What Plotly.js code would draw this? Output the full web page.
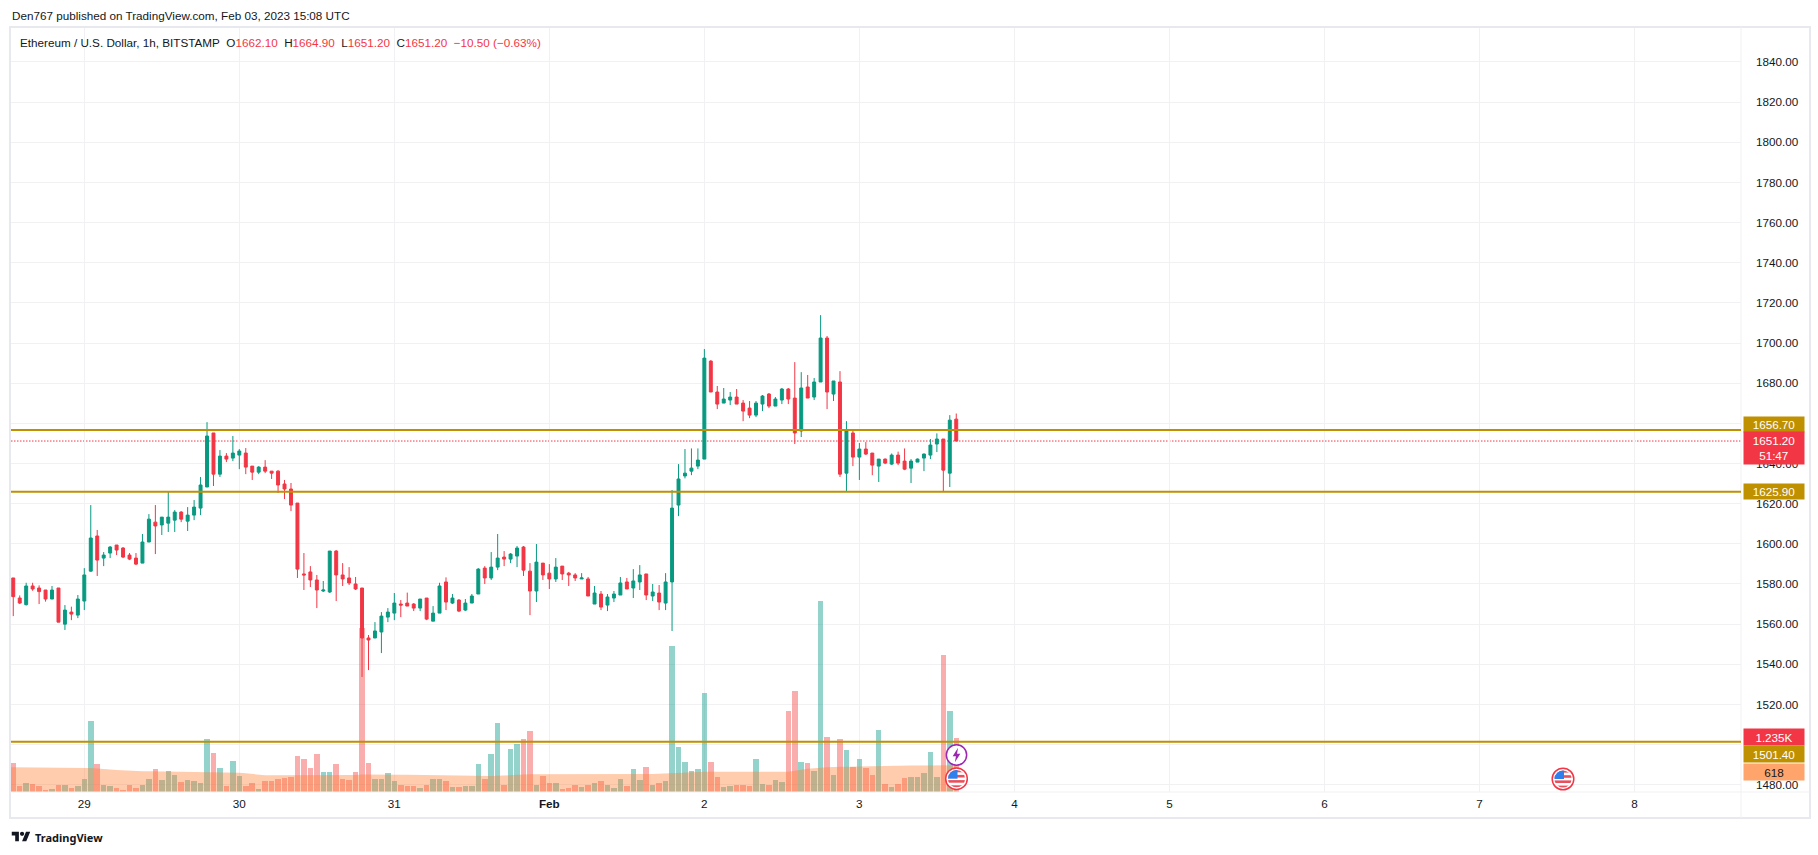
<!DOCTYPE html>
<html>
<head>
<meta charset="utf-8">
<script src="https://cdn.plot.ly/plotly-3.0.1.min.js"></script>
<style>html,body{margin:0;padding:0;background:#fff}#chart{width:1818px;height:855px}</style>
</head>
<body>
<div id="chart"></div>
<script>
// Hourly candles, first bar: 2023-01-28 13:00
const firstBarUTC = Date.UTC(2023, 0, 28, 13);
const open = [1583.0,1573.0,1569.7,1579.0,1578.0,1577.0,1572.5,1578.0,1560.0,1566.0,1564.5,
1571.5,1586.4,1603.9,1592.9,1595.4,1599.4,1597.9,1594.4,1592.9,1590.4,1600.9,1610.8,1609.4,1610.3,1611.8,1615.8,1611.3,1614.3,1617.8,1628.3,1655.2,1634.7,1643.7,1642.7,
1644.2,1645.2,1638.7,1635.7,1638.2,1636.2,1636.2,1629.8,1627.3,1620.3,1585.0,1586.0,1582.0,1576.5,1576.0,1596.4,1584.5,1583.0,1580.0,1578.0,1553.1,1553.1,1556.1,1563.5,1565.5,
1570.0,1570.5,1570.0,1568.0,1573.0,1561.5,1565.5,1581.0,1570.5,1572.0,1567.0,1570.5,1575.0,1587.9,1583.0,1588.4,1593.4,1592.4,1593.9,1598.4,1586.4,1576.5,1590.4,1585.4,
1582.5,1588.9,1585.4,1584.5,1582.5,1582.5,1570.0,1575.0,1569.5,1573.0,1574.5,1581.0,1578.0,1581.0,1585.0,1574.0,1575.5,1570.5,1581.0,1619.3,1633.8,1636.2,1638.7,1642.2,
1691.0,1675.6,1670.1,1671.6,1673.1,1670.1,1667.6,1664.1,1669.6,1674.6,1668.6,1671.6,1677.1,1672.6,1656.2,1678.1,1673.1,1680.6,1702.5,1674.6,1680.6,1635.2,1655.2,1643.2,
1647.2,1645.2,1638.7,1642.2,1639.7,1644.2,1641.2,1637.7,1640.7,1642.7,1644.2,1649.7,1652.2,1635.2,1662.1];
const high = [1583.0,1574.3,1580.6,1580.6,1579.3,1577.0,1579.0,1578.0,1569.5,1568.7,1574.5,
1587.9,1619.3,1606.9,1595.9,1598.9,1599.4,1598.4,1595.4,1595.4,1604.9,1614.8,1619.3,1613.3,1626.3,1616.8,1616.3,1618.3,1621.8,1633.3,1660.6,1655.2,1646.7,1645.2,1653.7,
1647.2,1647.7,1638.7,1638.7,1641.7,1636.2,1636.7,1631.8,1630.3,1620.3,1595.4,1588.9,1584.5,1581.5,1596.4,1596.9,1590.4,1588.4,1583.5,1578.0,1554.6,1561.0,1566.0,1568.0,1575.5,
1572.0,1575.7,1570.5,1572.5,1573.0,1569.0,1580.6,1583.3,1575.0,1572.5,1572.5,1575.0,1587.9,1588.9,1595.9,1604.9,1596.4,1595.4,1598.9,1598.9,1590.4,1599.9,1590.4,1589.9,
1592.9,1588.9,1586.0,1585.4,1585.4,1583.5,1579.0,1576.5,1575.0,1576.5,1583.5,1583.0,1587.4,1589.4,1585.0,1580.0,1579.5,1585.4,1626.8,1639.7,1647.2,1647.5,1647.5,1697.0,
1691.5,1678.6,1677.6,1675.6,1677.1,1671.6,1671.1,1671.1,1674.1,1675.1,1673.1,1677.6,1677.6,1690.5,1685.5,1684.1,1682.6,1713.9,1703.5,1681.1,1686.0,1661.1,1656.7,1650.2,
1650.7,1645.2,1642.2,1642.5,1645.0,1645.9,1647.5,1642.2,1642.5,1645.0,1652.2,1655.0,1652.2,1664.1,1664.9];
const low = [1564.0,1570.0,1569.3,1576.6,1570.0,1571.2,1572.5,1561.0,1557.1,1562.0,1563.0,
1567.0,1586.1,1584.0,1588.9,1592.9,1594.4,1592.9,1591.9,1589.4,1590.4,1600.9,1594.9,1604.4,1605.9,1605.9,1610.8,1606.4,1611.8,1614.3,1628.3,1628.8,1633.3,1640.7,1641.2,
1637.2,1634.7,1631.8,1634.7,1635.2,1632.3,1625.3,1622.3,1616.3,1583.0,1577.0,1578.5,1568.0,1576.0,1575.5,1571.5,1579.0,1579.5,1577.0,1533.7,1537.1,1553.1,1545.6,1561.0,1562.0,
1563.5,1569.0,1566.5,1566.5,1562.0,1561.5,1565.5,1567.0,1570.0,1566.0,1566.5,1570.5,1575.0,1580.0,1582.0,1586.9,1588.9,1590.4,1588.4,1584.0,1564.5,1571.0,1582.0,1577.5,
1581.0,1582.0,1579.0,1581.5,1582.5,1574.0,1570.0,1567.0,1566.5,1571.0,1574.5,1577.5,1573.0,1577.0,1572.0,1571.5,1567.0,1567.0,1556.6,1613.8,1632.6,1634.2,1637.2,1642.2,
1675.6,1667.1,1670.1,1669.1,1669.6,1661.1,1662.6,1663.1,1666.1,1667.6,1668.6,1669.6,1669.6,1649.7,1653.2,1672.6,1671.6,1680.6,1667.1,1671.1,1633.3,1625.9,1638.7,1631.8,
1644.2,1634.2,1630.8,1639.7,1639.2,1639.2,1636.7,1630.3,1640.7,1636.2,1642.2,1645.7,1626.3,1628.3,1651.2];
const close = [1573.7,1570.5,1579.0,1577.5,1576.2,1572.5,1577.0,1561.0,1567.0,1565.0,1572.5,
1584.5,1602.9,1591.9,1594.4,1598.4,1596.9,1593.4,1592.4,1589.9,1600.9,1612.3,1608.9,1613.3,1613.3,1615.8,1612.3,1614.3,1618.3,1629.3,1653.7,1634.7,1643.7,1642.2,1645.2,
1646.2,1638.2,1635.7,1638.2,1636.2,1635.2,1629.3,1627.3,1619.3,1587.4,1584.5,1582.0,1577.0,1577.0,1596.4,1584.5,1582.5,1580.5,1577.5,1553.1,1552.1,1556.6,1564.0,1566.0,1570.5,
1569.5,1569.0,1568.0,1572.5,1562.5,1565.5,1579.0,1571.0,1573.0,1566.5,1570.5,1574.0,1587.4,1583.0,1588.4,1592.9,1592.4,1594.9,1597.9,1586.9,1576.5,1590.9,1584.5,1582.5,
1588.4,1585.0,1584.5,1583.0,1583.0,1574.0,1575.5,1568.5,1573.5,1575.0,1580.5,1577.5,1581.5,1584.5,1574.5,1576.0,1571.0,1581.0,1617.8,1632.3,1635.2,1637.7,1641.7,1692.5,
1675.6,1669.6,1672.1,1673.1,1669.6,1666.1,1664.1,1670.1,1673.6,1668.6,1672.1,1677.1,1672.1,1655.2,1677.6,1672.6,1680.6,1702.5,1675.6,1681.1,1634.7,1656.2,1643.2,1647.2,
1644.7,1639.2,1642.2,1640.2,1644.2,1640.2,1637.2,1641.2,1642.2,1644.7,1649.2,1652.2,1636.7,1661.6,1651.2];
const volume = [660,138,199,176,138,54,69,153,153,92,130,
291,1626,637,153,130,84,54,153,84,153,291,522,268,476,384,222,268,245,199,1212,890,545,130,706,
360,130,199,69,245,245,291,314,337,821,752,545,867,453,453,637,291,268,453,3766,660,291,291,430,245,
153,130,130,84,153,291,291,245,107,107,130,130,637,291,867,1580,153,982,1097,1212,1396,153,360,199,
199,69,92,153,107,153,199,245,153,84,291,130,522,268,568,153,199,245,3352,1028,683,476,522,2270,
683,337,107,130,153,153,130,752,176,153,268,222,1856,2316,683,660,476,4387,1258,384,1212,959,568,752,
545,384,1419,176,107,176,314,337,337,430,913,337,3145,1856,1235];
// Volume moving average, one value per hour, starts one hour before the first visible bar
const volumeMA = [568,568,568,565,565,565,562,560,560,558,556,556,
553,550,545,535,520,505,495,488,482,480,
478,476,476,476,476,474,472,470,466,453,
453,453,453,450,445,430,410,395,385,384,
384,382,380,380,384,384,386,390,392,392,
392,392,392,404,406,406,404,402,400,398,
396,394,392,390,388,384,380,375,368,362,
360,360,362,368,375,385,392,398,402,406,
406,404,402,400,398,398,398,400,402,402,
404,406,406,408,408,410,412,414,416,420,
435,445,448,452,456,460,468,468,468,466,
464,462,460,460,462,462,462,462,462,468,
490,520,535,545,565,572,578,582,585,590,
592,594,596,598,600,602,604,606,608,610,
612,614,615,616,617,618];
const levels = [1656.7, 1625.9, 1501.4];
const lastPrice = 1651.2;
const priceTicks = [1480,1500,1520,1540,1560,1580,1600,1620,1640,1660,1680,1700,1720,1740,1760,1780,1800,1820,1840];
const hiddenPriceLabels = [1500, 1660]; // fully covered by the level badges in the picture
const dayDates = ['2023-01-29','2023-01-30','2023-01-31','2023-02-01','2023-02-02','2023-02-03','2023-02-04','2023-02-05','2023-02-06','2023-02-07','2023-02-08'];
const dayLabels = ['29','30','31','<b>Feb</b>','2','3','4','5','6','7','8'];

const HOUR = 3600e3;
const times = open.map((_, i) => firstBarUTC + i * HOUR);
const maTimes = volumeMA.map((_, i) => firstBarUTC + (i - 1) * HOUR);
const GREEN = '#089981', RED = '#F23645', GOLD = '#BF9000', TEXT = '#131722', GRID = '#f1f1f4', FRAME = '#e8e9ef';
const FONT = '"Liberation Sans", sans-serif';
const FS = 11.7;

// page-pixel helpers for chart furniture (frame, badges, icons)
const L = 11, R = 1741, T = 28, B = 792;
const PX = p => (p - L) / (R - L), PY = p => (B - p) / (B - T);
const svg = s => 'data:image/svg+xml;charset=utf-8,' + encodeURIComponent(s);

const boltIcon = svg('<svg xmlns="http://www.w3.org/2000/svg" viewBox="0 0 24 24"><circle cx="12" cy="12" r="10.6" fill="#fff" stroke="#9C27B0" stroke-width="1.6"/><path d="M13.6 4.5 8 13.2h3.4L10.3 19.5 16 10.6h-3.4z" fill="#9C27B0"/></svg>');
const flagIcon = svg('<svg xmlns="http://www.w3.org/2000/svg" viewBox="0 0 24 24"><defs><clipPath id="c"><circle cx="12" cy="12" r="8.6"/></clipPath></defs><circle cx="12" cy="12" r="10.8" fill="#fff" stroke="#F23645" stroke-width="1.5"/><g clip-path="url(#c)"><rect width="24" height="24" fill="#fff"/><rect y="3" width="24" height="2.6" fill="#E8505B"/><rect y="8.2" width="24" height="2.6" fill="#E8505B"/><rect y="13.4" width="24" height="2.6" fill="#E8505B"/><rect y="18.6" width="24" height="2.6" fill="#E8505B"/><rect x="3" y="3" width="10" height="9" fill="#2F80ED"/></g></svg>');
const logoIcon = svg('<svg xmlns="http://www.w3.org/2000/svg" viewBox="0 0 36 28"><path fill="#131722" d="M14 22H7V11H0V4h14v18zM28 22h-8l7.5-18h8L28 22z"/><circle cx="20" cy="8" r="4" fill="#131722"/></svg>');
const icon = (src, cx, cy, w, h) => ({source: src, xref: 'paper', yref: 'paper', x: PX(cx), y: PY(cy), sizex: w / (R - L), sizey: h / (B - T), xanchor: 'center', yanchor: 'middle', sizing: 'stretch', layer: 'above'});

const badge = (text, cy, h, bg, fg) => ({text, xref: 'paper', yref: 'paper', x: PX(1774.5), y: PY(cy), xanchor: 'center', yanchor: 'middle', width: 60, height: h, bgcolor: bg, showarrow: false, borderpad: 0, align: 'center', valign: 'middle', font: {family: FONT, size: FS, color: fg}});
const label = (text, x, y, size, color, family) => ({text, xref: 'paper', yref: 'paper', x: PX(x), y: PY(y), xanchor: 'left', yanchor: 'middle', showarrow: false, align: 'left', font: {family: family || FONT, size, color}});

const sp = c => '<span style="color:' + c + '">';
const gap = '\u00A0\u00A0';
const legendText = 'Ethereum / U.S. Dollar, 1h, BITSTAMP' + gap + 'O' + sp(RED) + '1662.10</span>' + gap + 'H' + sp(RED) + '1664.90</span>' + gap + 'L' + sp(RED) + '1651.20</span>' + gap + 'C' + sp(RED) + '1651.20</span>' + gap + sp(RED) + '−10.50 (−0.63%)</span>';

const data = [
  {type: 'scatter', mode: 'lines', x: maTimes, y: volumeMA, yaxis: 'y', line: {width: 0, color: 'rgba(255,128,50,0)'}, fill: 'tozeroy', fillcolor: 'rgba(255,128,50,0.4)', hoverinfo: 'skip', showlegend: false},
  {type: 'bar', x: times, y: volume, yaxis: 'y', width: 0.85 * HOUR, marker: {color: close.map((c, i) => c < open[i] ? 'rgba(241,60,60,0.42)' : 'rgba(0,150,131,0.42)'), line: {width: 0}}, hoverinfo: 'skip', showlegend: false},
  {type: 'candlestick', x: times, open, high, low, close, yaxis: 'y2', whiskerwidth: 0,
   increasing: {line: {color: GREEN, width: 1}, fillcolor: GREEN},
   decreasing: {line: {color: RED, width: 1}, fillcolor: RED}, hoverinfo: 'skip', showlegend: false}
];

const layout = {
  width: 1818, height: 855, autosize: false,
  margin: {l: L, r: 1818 - R, t: T, b: 855 - B, pad: 0},
  paper_bgcolor: '#fff', plot_bgcolor: '#fff', showlegend: false, dragmode: false,
  boxmode: 'overlay', boxgap: 0.35, bargap: 0,
  font: {family: FONT, size: FS, color: TEXT},
  xaxis: {
    type: 'date', range: [firstBarUTC - 0.35 * HOUR, firstBarUTC + 267.5 * HOUR],
    rangeslider: {visible: false}, tickmode: 'array', tickvals: dayDates, ticktext: dayLabels,
    showgrid: true, gridcolor: GRID, gridwidth: 1, ticks: '', showline: false, zeroline: false,
    ticklabelstandoff: 3, tickfont: {family: FONT, size: FS, color: TEXT}
  },
  yaxis: {range: [0, 17580], visible: false, showgrid: false, zeroline: false, fixedrange: true},
  yaxis2: {
    overlaying: 'y', side: 'right', range: [1476.4, 1856.9],
    tickmode: 'array', tickvals: priceTicks, ticktext: priceTicks.map(v => hiddenPriceLabels.includes(v) ? '' : v.toFixed(2)),
    showgrid: true, gridcolor: GRID, gridwidth: 1, ticks: '', showline: false, zeroline: false,
    ticklabelstandoff: 14, tickfont: {family: FONT, size: FS, color: TEXT}, fixedrange: true
  },
  shapes: [
    {type: 'rect', xref: 'paper', yref: 'paper', x0: PX(10), x1: PX(1810), y0: PY(27), y1: PY(818), line: {color: FRAME, width: 2}, layer: 'above'},
    {type: 'line', xref: 'paper', yref: 'paper', x0: PX(R), x1: PX(R), y0: PY(27), y1: PY(818), line: {color: GRID, width: 1}},
    {type: 'line', xref: 'paper', yref: 'paper', x0: PX(10), x1: PX(1810), y0: PY(B), y1: PY(B), line: {color: GRID, width: 1}},
    {type: 'line', xref: 'paper', yref: 'y2', x0: 0, x1: 1, y0: lastPrice, y1: lastPrice, line: {color: RED, width: 1, dash: '1.5px,1.5px'}, layer: 'below'},
    ...levels.map(v => ({type: 'line', xref: 'paper', yref: 'y2', x0: 0, x1: 1, y0: v, y1: v, line: {color: GOLD, width: 2}, layer: 'above'}))
  ],
  images: [icon(boltIcon, 956.5, 755, 23, 23), icon(flagIcon, 956.5, 778.7, 24, 24), icon(flagIcon, 1563, 779, 24, 24), icon(logoIcon, 21, 837, 19, 15)],
  annotations: [
    label('Den767 published on TradingView.com, Feb 03, 2023 15:08 UTC', 10, 15, FS, TEXT),
    label(legendText, 18, 42, FS, TEXT),
    label('<b>TradingView</b>', 33, 837, 11, TEXT, '"Noto Sans", sans-serif'),
    badge(levels[0].toFixed(2), 424.3, 15, GOLD, '#fff'),
    badge(lastPrice.toFixed(2) + '<br>51:47', 448, 32, RED, '#fff'),
    badge(levels[1].toFixed(2), 491.7, 15, GOLD, '#fff'),
    badge('1.235K', 737.4, 16, RED, '#fff'),
    badge(levels[2].toFixed(2), 753.6, 16, GOLD, '#fff'),
    badge('618', 772, 16, '#FFA46B', TEXT)
  ]
};
Plotly.newPlot('chart', data, layout, {displayModeBar: false, staticPlot: true});
</script>
</body>
</html>
